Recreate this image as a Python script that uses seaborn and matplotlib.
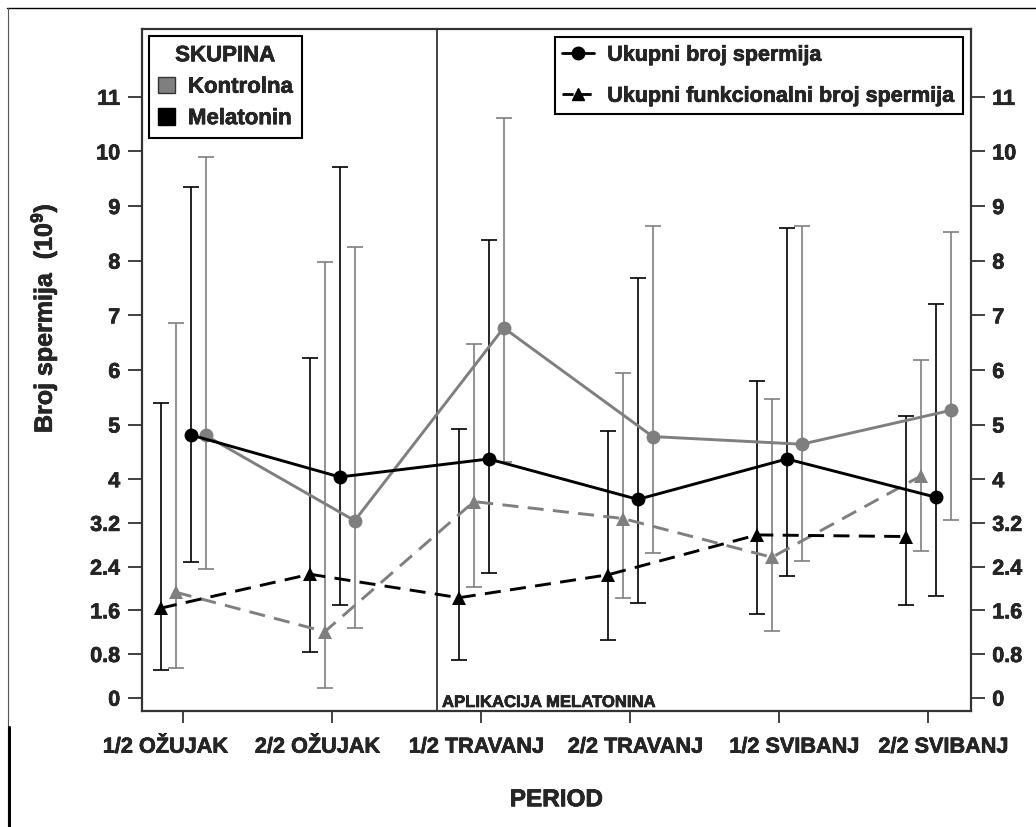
import numpy as np
import pandas as pd
import matplotlib
matplotlib.use("Agg")
import matplotlib.pyplot as plt
import matplotlib.patheffects as pe
import matplotlib.transforms as mtrans
from matplotlib import font_manager
from matplotlib.lines import Line2D
from matplotlib.patches import Patch
from matplotlib.text import Text
import seaborn as sns

# podaci ocitani sa slike
periods = ["1/2 OŽUJAK", "2/2 OŽUJAK", "1/2 TRAVANJ", "2/2 TRAVANJ", "1/2 SVIBANJ", "2/2 SVIBANJ"]

mel_total = [4.81, 4.04, 4.37, 3.63, 4.37, 3.67]
mel_total_lo = [2.48, 1.70, 2.29, 1.73, 2.22, 1.87]
mel_total_hi = [9.35, 9.71, 8.37, 7.68, 8.60, 7.21]

kon_total = [4.80, 3.24, 6.77, 4.78, 4.64, 5.26]
kon_total_lo = [2.35, 1.28, 4.31, 2.65, 2.51, 3.25]
kon_total_hi = [9.89, 8.25, 10.61, 8.63, 8.63, 8.52]

mel_func = [1.64, 2.26, 1.83, 2.25, 2.98, 2.95]
mel_func_lo = [0.51, 0.84, 0.69, 1.06, 1.54, 1.69]
mel_func_hi = [5.39, 6.21, 4.91, 4.89, 5.80, 5.16]

kon_func = [1.93, 1.21, 3.59, 3.28, 2.57, 4.06]
kon_func_lo = [0.54, 0.18, 2.02, 1.82, 1.23, 2.69]
kon_func_hi = [6.85, 7.97, 6.47, 5.94, 5.47, 6.19]

yticks = [0, 0.8, 1.6, 2.4, 3.2, 4, 5, 6, 7, 8, 9, 10, 11]
ytick_labels = ["0", "0.8", "1.6", "2.4", "3.2", "4", "5", "6", "7", "8", "9", "10", "11"]

GREY = "#7f7f7f"

# 1. Long format tablica
series = [
    ("Melatonin", "func", mel_func, mel_func_lo, mel_func_hi, -0.15),
    ("Kontrolna", "func", kon_func, kon_func_lo, kon_func_hi, -0.05),
    ("Melatonin", "total", mel_total, mel_total_lo, mel_total_hi, 0.05),
    ("Kontrolna", "total", kon_total, kon_total_lo, kon_total_hi, 0.15),
]
rows = []
for grp, mj, vals, lo, hi, off in series:
    for i, p in enumerate(periods):
        rows.append({"skupina": grp, "mjera": mj, "x": i + off,
                     "y": vals[i], "lo": lo[i], "hi": hi[i]})
df = pd.DataFrame(rows)

# 2. Stil
sns.set_style("ticks")
plt.rcParams["font.family"] = ["Liberation Sans", "DejaVu Sans"]
plt.rcParams["font.weight"] = "bold"
plt.rcParams["mathtext.default"] = "bf"
plt.rcParams["mathtext.fontset"] = "custom"
plt.rcParams["mathtext.bf"] = "Liberation Sans:bold"
plt.rcParams["mathtext.rm"] = "Liberation Sans"

# uski font za oznake perioda, ako postoji
try:
    font_manager.findfont(font_manager.FontProperties(family="Liberation Sans Narrow", weight="bold"),
                          fallback_to_default=False)
    narrow = True
except Exception:
    narrow = False

fig = plt.figure(figsize=(10.36, 8.27), dpi=100)
ax = fig.add_axes([0.1368, 0.1403, 0.8002, 0.8246])

palette = {"Kontrolna": GREY, "Melatonin": "black"}

# 3. Error bars
for (grp, mj), d in df.groupby(["skupina", "mjera"]):
    col = palette[grp]
    ax.errorbar(d["x"], d["y"], yerr=[d["y"] - d["lo"], d["hi"] - d["y"]],
                fmt="none", ecolor=col, elinewidth=1.2, capsize=6, capthick=1.2,
                zorder=2)

# 4. Linije
sns.lineplot(data=df, x="x", y="y", hue="skupina", style="mjera",
             palette=palette, markers={"total": "o", "func": "^"},
             dashes={"total": "", "func": (5.5, 3.2)},
             hue_order=["Kontrolna", "Melatonin"], style_order=["total", "func"],
             linewidth=2.1, markersize=10, markeredgewidth=0,
             estimator=None, sort=False, legend=False, ax=ax, zorder=3)

# 5. Osi
ax.set_xlim(-0.279, 5.284)
ax.set_ylim(-0.243, 12.24)
ax.set_xticks(range(len(periods)))
ax.set_yticks(yticks)
ax.set_yticklabels(ytick_labels)
ax.tick_params(axis="y", which="both", right=True, labelright=True,
               direction="out", length=10, width=1.3, color="#333333",
               labelsize=15.5, pad=5.5)
if narrow:
    ax.set_xticklabels(periods, family=["Liberation Sans Narrow", "Liberation Sans"],
                       fontsize=19, fontweight="bold")
    xpad = 7
else:
    ax.set_xticklabels(periods, fontsize=15.6, fontweight="bold")
    xpad = 10
ax.tick_params(axis="x", direction="out", length=8.5, width=1.3,
               color="#333333", pad=xpad)
# oznake nisu tocno ispod crtica
label_shift = [-18, -15, -5, 5, 15, 15]
for lab, dx in zip(ax.get_xticklabels(), label_shift):
    lab.set_transform(lab.get_transform() +
                      mtrans.ScaledTranslation(dx / 100, 0, fig.dpi_scale_trans))

for s in ax.spines.values():
    s.set_visible(True)
    s.set_linewidth(1.6)
    s.set_color("#333333")

ax.set_xlabel("PERIOD", fontsize=17.5, fontweight="bold", labelpad=22)
ax.set_ylabel("Broj spermija  (10$^{9}$)", fontsize=18, fontweight="bold")
ax.yaxis.set_label_coords(-0.1, 0.576)

# pocetak aplikacije melatonina
ax.axvline(1.703, color="#333333", linewidth=1.3, zorder=1)
ax.text(1.736, -0.17, "APLIKACIJA MELATONINA", fontsize=12, fontweight="bold",
        ha="left", va="baseline")

# 6. Legende
h1 = [Patch(facecolor=GREY, edgecolor="#333333", linewidth=1),
      Patch(facecolor="black", edgecolor="black", linewidth=1)]
leg1 = ax.legend(h1, ["Kontrolna", "Melatonin"], title="SKUPINA",
                 loc="upper left", fontsize=16,
                 title_fontproperties={"size": 16, "weight": "bold"},
                 frameon=True, fancybox=False, edgecolor="black", framealpha=1,
                 handlelength=0.75, handleheight=0.75, handletextpad=0.6,
                 labelspacing=0.47, borderpad=0.4, borderaxespad=0.33)
leg1.get_frame().set_linewidth(1.5)
ax.add_artist(leg1)

h2 = [Line2D([], [], color="black", marker="o", markersize=9, linewidth=2),
      Line2D([], [], color="black", marker="^", markersize=8, linewidth=2,
             dashes=(4, 2.5))]
leg2 = ax.legend(h2, ["Ukupni broj spermija", "Ukupni funkcionalni broj spermija"],
                 loc="upper right", fontsize=15.5, frameon=True, fancybox=False,
                 edgecolor="black", framealpha=1, handlelength=1.5,
                 handletextpad=0.6, labelspacing=0.93, borderpad=0.35,
                 borderaxespad=0.38)
leg2.get_frame().set_linewidth(1.5)

# malo deblji tekst, kao na skeniranoj slici
for t in fig.findobj(Text):
    t.set_path_effects([pe.withStroke(linewidth=0.45, foreground="black")])

# okvir slike
fig.add_artist(Line2D([7 / 1036, 1], [1 - 7.5 / 827, 1 - 7.5 / 827],
                      transform=fig.transFigure, color="black", linewidth=1))
fig.add_artist(Line2D([7.5 / 1036, 7.5 / 1036], [1 - 7.5 / 827, 0],
                      transform=fig.transFigure, color="#555555", linewidth=0.8))
fig.add_artist(Line2D([8.5 / 1036, 8.5 / 1036], [1 - 727 / 827, 0],
                      transform=fig.transFigure, color="black", linewidth=2.2))

fig.savefig("out.png", dpi=100)
